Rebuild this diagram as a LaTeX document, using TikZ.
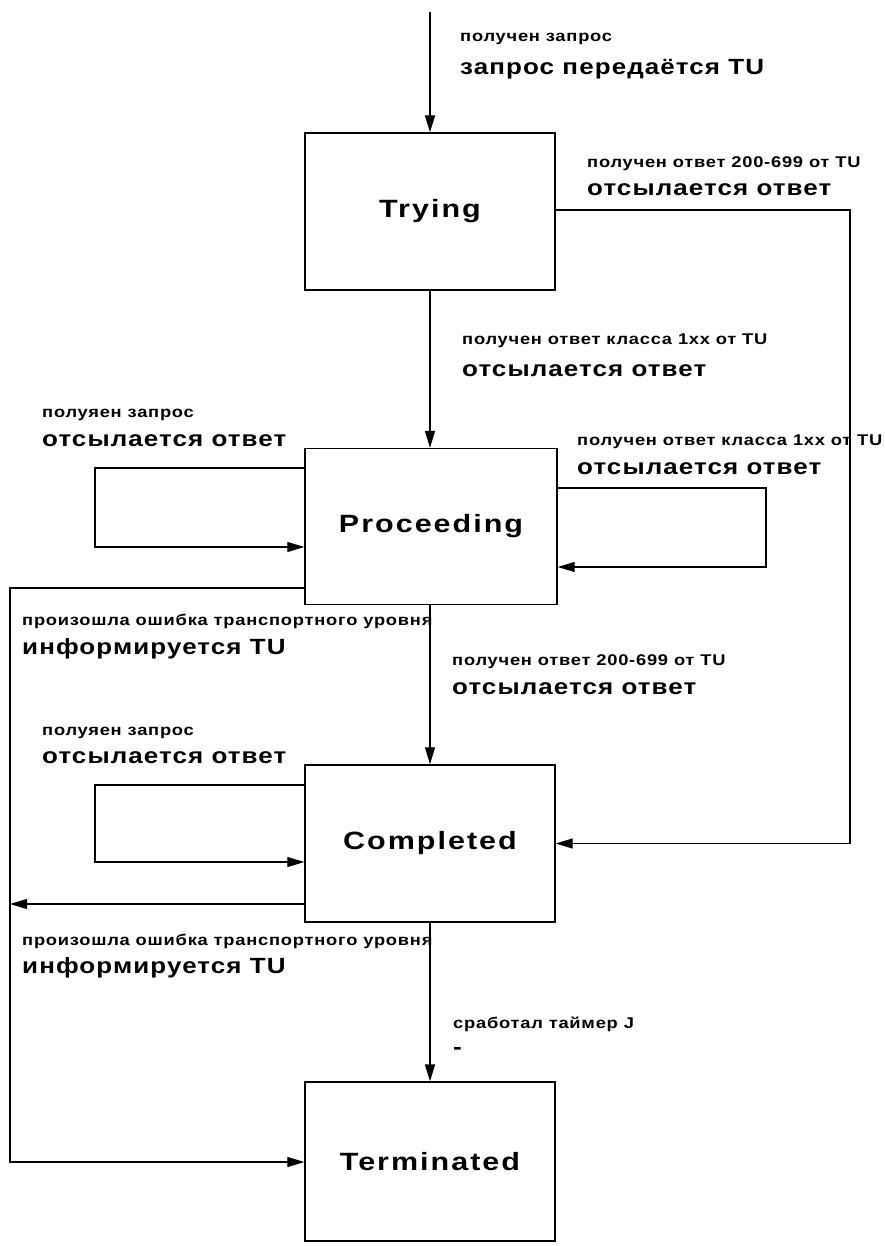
\documentclass[tikz,border=0pt]{standalone}
\usepackage{fontspec}
\setmainfont{Liberation Sans}
\newfontfamily\lblfont[FakeStretch=1.18,LetterSpace=5]{Liberation Sans}
\newfontfamily\ttlfont[FakeStretch=1.22,LetterSpace=8]{Liberation Sans}
\usetikzlibrary{arrows.meta}

\tikzset{
  state/.style={draw, line width=1.4pt, fill=white, inner sep=0pt,
    minimum width=250pt, minimum height=157pt,
    font=\ttlfont\bfseries\fontsize{25}{25}\selectfont},
  evt/.style={anchor=base west, inner sep=0pt,
    font=\lblfont\bfseries\fontsize{15.5}{15.5}\selectfont},
  act/.style={anchor=base west, inner sep=0pt,
    font=\lblfont\bfseries\fontsize{22}{22}\selectfont},
  conn/.style={line width=1.1pt, -{Triangle[length=17pt,width=10pt]}},
  trunk/.style={conn, line width=1.8pt},
}

\begin{document}
\begin{tikzpicture}[x=1pt,y=-1pt]
  \useasboundingbox[fill=white] (0,0) rectangle (884,1246);

  % states
  \node[state] (try)  at (430,211.5) {Trying};
  \node[state, minimum width=252pt, minimum height=156pt] (proc) at (431,526.5) {Proceeding};
  \node[state] (comp) at (430,843.5) {Completed};
  \node[state, minimum height=159pt] (term) at (430,1161.5) {Terminated};

  % helper points for the bent connectors
  \coordinate (start) at (430,12);
  \coordinate (rside) at (850,210);
  \coordinate (pl1) at (95,468);
  \coordinate (pl2) at (95,547);
  \coordinate (pr1) at (766,488);
  \coordinate (pr2) at (766,567);
  \coordinate (pe1) at (10,588);
  \coordinate (pe2) at (10,1162);
  \coordinate (cl1) at (95,785);
  \coordinate (cl2) at (95,862);
  \coordinate (ce)  at (10,904);

  % main chain
  \draw[trunk] (start) -- (try.north);
  \draw[trunk] (try.south) -- (proc.north -| try.south);
  \draw[conn]  (proc.south -| comp.north) -- (comp.north);
  \draw[trunk] (comp.south) -- (term.north);

  % Trying -> Completed on the right
  \draw[conn] (try.east |- rside) -- (rside) -- (rside |- comp.east) -- (comp.east);

  % Proceeding self loops
  \draw[conn] (proc.west |- pl1) -- (pl1) -- (pl2) -- (proc.west |- pl2);
  \draw[conn] (proc.east |- pr1) -- (pr1) -- (pr2) -- (proc.east |- pr2);

  % Proceeding transport error -> Terminated
  \draw[conn] (proc.west |- pe1) -- (pe1) -- (pe2) -- (term.west |- pe2);

  % Completed self loop and transport error
  \draw[conn] (comp.west |- cl1) -- (cl1) -- (cl2) -- (comp.west |- cl2);
  \draw[conn] (comp.west |- ce) -- (ce);

  % labels
  \node[evt] (l1a) at (460,42)  {получен запрос};
  \node[act] (l1b) at (460,75)  {запрос передаётся TU};

  \node[evt] (l2a) at (587,168) {получен ответ 200-699 от TU};
  \node[act] (l2b) at (587,196) {отсылается ответ};

  \node[evt] (l3a) at (462,344) {получен ответ класса 1xx от TU};
  \node[act] (l3b) at (462,376) {отсылается ответ};

  \node[evt] (l4a) at (42,417)  {полуяен запрос};
  \node[act] (l4b) at (42,446)  {отсылается ответ};

  \node[evt] (l5a) at (577,445) {получен ответ класса 1xx от TU};
  \node[act] (l5b) at (577,474) {отсылается ответ};

  \node[evt] (l6a) at (22,625)  {произошла ошибка транспортного уровня};
  \node[act] (l6b) at (22,654)  {информируется TU};

  \node[evt] (l7a) at (452,665) {получен ответ 200-699 от TU};
  \node[act] (l7b) at (452,694) {отсылается ответ};

  \node[evt] (l8a) at (42,735)  {полуяен запрос};
  \node[act] (l8b) at (42,763)  {отсылается ответ};

  \node[evt] (l9a) at (22,945)  {произошла ошибка транспортного уровня};
  \node[act] (l9b) at (22,973)  {информируется TU};

  \node[evt] (l10a) at (453,1028) {сработал таймер J};
  \node[act] (l10b) at (453,1054) {-};
\end{tikzpicture}
\end{document}
